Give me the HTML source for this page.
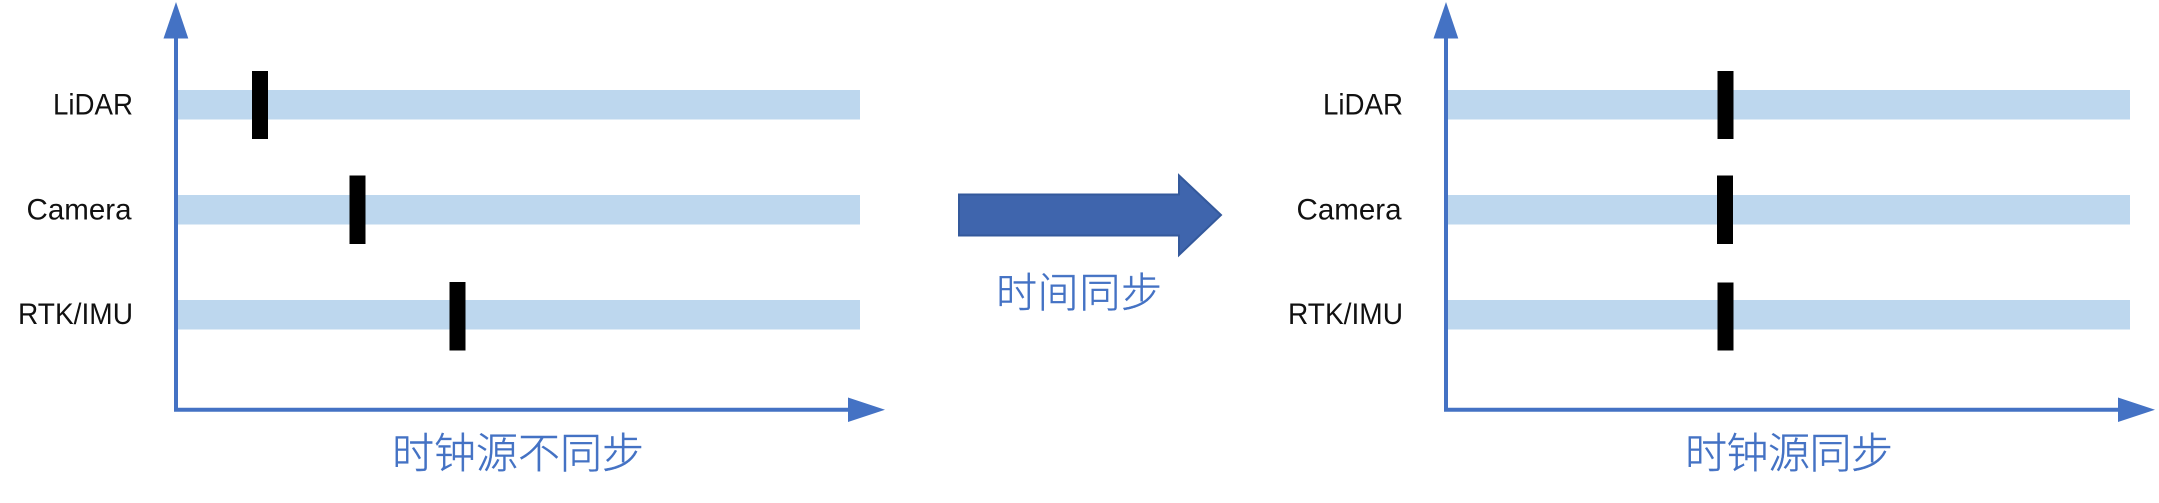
<!DOCTYPE html>
<html><head><meta charset="utf-8"><style>
html,body{margin:0;padding:0;background:#fff;width:2159px;height:503px;overflow:hidden}
svg{display:block}
.l{font-family:"Liberation Sans",sans-serif;font-size:30px;fill:#111}
.c{font-family:"Liberation Sans","Noto Sans CJK SC",sans-serif;font-weight:300;fill:#4472C4;stroke:#4472C4;stroke-width:.4px}
</style></head><body>
<svg width="2159" height="503" viewBox="0 0 2159 503" xmlns="http://www.w3.org/2000/svg">
<g>
<rect x="177" y="90" width="683" height="29.5" fill="#BDD7EE"/>
<rect x="177" y="195" width="683" height="29.5" fill="#BDD7EE"/>
<rect x="177" y="300" width="683" height="29.5" fill="#BDD7EE"/>
<path d="M176 36V409.7M174 409.7H850" stroke="#4472C4" stroke-width="4" fill="none"/>
<polygon points="176,2 188.3,38.5 163.5,38.5" fill="#4472C4"/>
<polygon points="848,397.5 885,409.7 848,422" fill="#4472C4"/>
<rect x="252" y="71" width="16" height="68" fill="#000"/>
<rect x="349.5" y="175.5" width="16" height="68.5" fill="#000"/>
<rect x="449.5" y="282" width="16" height="68.5" fill="#000"/>
<text class="l" x="53" y="114.5" textLength="80" lengthAdjust="spacingAndGlyphs">LiDAR</text>
<text class="l" x="26.5" y="219.5" textLength="105" lengthAdjust="spacingAndGlyphs">Camera</text>
<text class="l" x="18" y="324" textLength="115" lengthAdjust="spacingAndGlyphs">RTK/IMU</text>
<text class="c" x="392" y="468" font-size="42" textLength="252">时钟源不同步</text>
</g>
<polygon points="959,194.5 1179,194.5 1179,175.5 1221,215 1179,255 1179,235.5 959,235.5" fill="#3F65AD" stroke="#34599C" stroke-width="2"/>
<text class="c" x="996" y="307" font-size="41" textLength="166">时间同步</text>
<g>
<rect x="1447" y="90" width="683" height="29.5" fill="#BDD7EE"/>
<rect x="1447" y="195" width="683" height="29.5" fill="#BDD7EE"/>
<rect x="1447" y="300" width="683" height="29.5" fill="#BDD7EE"/>
<path d="M1446 36V409.7M1444 409.7H2120" stroke="#4472C4" stroke-width="4" fill="none"/>
<polygon points="1446,2 1458.3,38.5 1433.5,38.5" fill="#4472C4"/>
<polygon points="2118,397.5 2155,409.7 2118,422" fill="#4472C4"/>
<rect x="1717.5" y="71" width="16" height="68" fill="#000"/>
<rect x="1717" y="175.5" width="16" height="68.5" fill="#000"/>
<rect x="1717.5" y="282.5" width="16" height="68" fill="#000"/>
<text class="l" x="1323" y="114.5" textLength="80" lengthAdjust="spacingAndGlyphs">LiDAR</text>
<text class="l" x="1296.5" y="219.5" textLength="105" lengthAdjust="spacingAndGlyphs">Camera</text>
<text class="l" x="1288" y="324" textLength="115" lengthAdjust="spacingAndGlyphs">RTK/IMU</text>
<text class="c" x="1685" y="468" font-size="42" textLength="208">时钟源同步</text>
</g>
</svg>
</body></html>
